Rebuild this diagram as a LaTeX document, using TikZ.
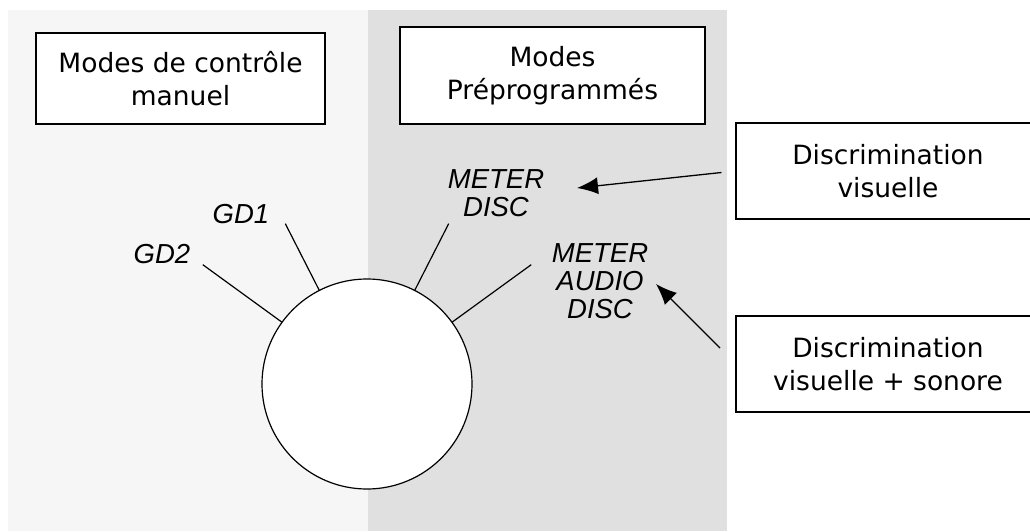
\documentclass[tikz,border=0pt]{standalone}
\usepackage{fontspec}
\setmainfont{DejaVu Sans}
\newfontfamily\labelfont{Liberation Sans}
\usetikzlibrary{arrows.meta}
\definecolor{manualgray}{HTML}{F6F6F6}
\definecolor{presetgray}{HTML}{E0E0E0}

\begin{document}
\begin{tikzpicture}[x=1pt, y=1pt]
 \tikzstyle{modebox}=[rectangle, draw, fill=white, line width=1.2pt, text=black, align=center, font=\fontsize{26.5}{33}\selectfont]
 \tikzstyle{modelabel}=[align=center, inner sep=0pt, font=\labelfont\itshape\fontsize{27.5}{28}\selectfont]
 \tikzstyle{dial}=[circle, draw, fill=white, line width=1.2pt, inner sep=0pt, outer sep=0pt, minimum size=210pt]
 \tikzstyle{spoke}=[line width=1.2pt]
 \tikzstyle{pointer}=[-{Latex[length=21pt, width=17pt]}, line width=1.3pt]
 %
 \useasboundingbox (0, 0) rectangle (1030, 531);
 \clip (0, 0) rectangle (1030, 531);
 \fill[manualgray] (8, 0) rectangle (368, 521);
 \fill[presetgray] (368, 0) rectangle (727, 521);
 %
 \node[modebox, minimum width=289pt, minimum height=91pt] (manual) at (180.5, 452.5) {Modes de contrôle\\manuel};
 \node[modebox, minimum width=305pt, minimum height=97pt] (preset) at (552.5, 455.5) {Modes\\Préprogrammés};
 \node[modebox, minimum width=304pt, minimum height=96pt] (discvis) at (888, 360) {Discrimination\\visuelle};
 \node[modebox, minimum width=304pt, minimum height=96pt] (discvs) at (888, 167) {Discrimination\\visuelle + sonore};
 %
 \node[dial] (dial) at (367, 147) {};
 \node[modelabel] (gd2) at (162, 277) {GD2};
 \node[modelabel] (gd1) at (241, 317) {GD1};
 \node[modelabel] (md) at (496, 338) {METER\\DISC};
 \node[modelabel] (mad) at (600, 250) {METER\\AUDIO\\DISC};
 %
 \coordinate (gd2end) at ([shift={(144:203)}]dial.center);
 \coordinate (gd1end) at ([shift={(117:180)}]dial.center);
 \coordinate (mdend) at ([shift={(63:180)}]dial.center);
 \coordinate (madend) at ([shift={(36:203)}]dial.center);
 \coordinate (mdtip) at (577, 343);
 \coordinate (madtail) at (720, 183);
 \coordinate (madtip) at (656, 247);
 %%
 \draw[spoke] (dial.144)--(gd2end);
 \draw[spoke] (dial.117)--(gd1end);
 \draw[spoke] (dial.63)--(mdend);
 \draw[spoke] (dial.36)--(madend);
 \draw[pointer, shorten <=14pt] (discvis.west)--(mdtip);
 \draw[pointer] (madtail)--(madtip);
\end{tikzpicture}
\end{document}
